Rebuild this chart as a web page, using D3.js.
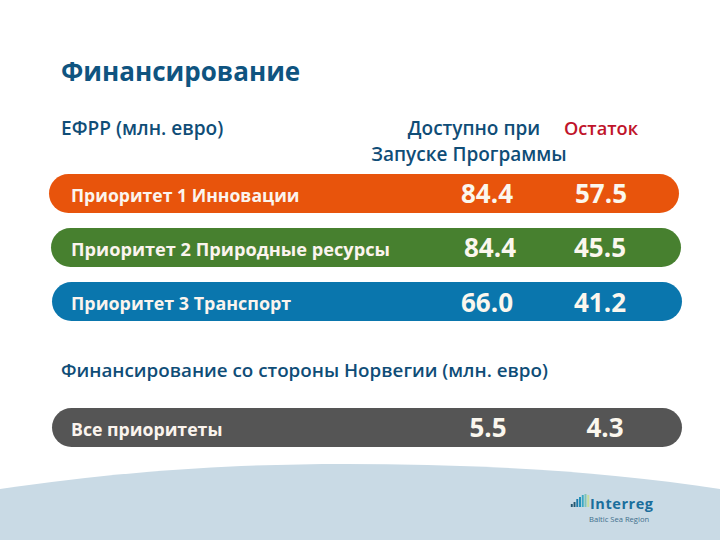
<!DOCTYPE html>
<html><head><meta charset="utf-8">
<script src="https://cdn.jsdelivr.net/npm/d3@7/dist/d3.min.js"></script>
<style>html,body{margin:0;padding:0;background:#fff}svg{display:block}text{font-family:"Open Sans",sans-serif}</style>
</head><body><svg id="c" width="720" height="540"></svg>
<script>
const titleText = "Финансирование";
const subtitleA = "ЕФРР (млн. евро)";
const subtitleB = "Финансирование со стороны Норвегии (млн. евро)";
const headerAvail = ["Доступно при", "Запуске Программы"];
const headerLeft = "Остаток";
const categories = ["Приоритет 1 Инновации","Приоритет 2 Природные ресурсы","Приоритет 3 Транспорт","Все приоритеты"];
const available = ["84.4","84.4","66.0","5.5"];
const remaining = ["57.5","45.5","41.2","4.3"];
const barColors = ["#e8540c","#47802f","#0a76ad","#555555"];

const svg = d3.select("#c");
const y = d3.scaleOrdinal().domain(categories).range([193.5,247.5,301.5,427.5]);
const rowShift = d3.scaleOrdinal().domain(categories).range([-3,-1,0,0]);
const labelSize = d3.scaleOrdinal().domain(categories).range([17.6,18.2,17.9,17.7]);
const col = d3.scaleOrdinal().domain(["name","avail","left"]).range([71,488,601]);
const barX = d3.scaleLinear().domain([0,1]).range([52,682]);
const navy = "#0f4d77";

// ground
const ground = d3.path();
ground.moveTo(0,489);
ground.bezierCurveTo(130,470,240,464,345,464);
ground.bezierCurveTo(470,464,600,470,720,489);
ground.lineTo(720,540); ground.lineTo(0,540); ground.closePath();
svg.append("path").attr("d",ground.toString()).attr("fill","#c9dae5");

function label(x,yy,t,size,fill,weight,anchor){
  return svg.append("text").attr("x",x).attr("y",yy).text(t).attr("font-size",size)
    .attr("fill",fill).attr("font-weight",weight||600).attr("text-anchor",anchor||"start");
}
label(61,81,titleText,26,"#0f5480",700);
label(61,135,subtitleA,19.1,navy,600);
label(61,377,subtitleB,18.8,navy,600);
label(474,135,headerAvail[0],19,navy,600,"middle");
label(469,161,headerAvail[1],19,navy,600,"middle");
label(601,135,headerLeft,18.2,"#c0142a",600,"middle");

const rows = svg.selectAll("g.row").data(categories).join("g").attr("class","row");
rows.append("rect")
  .attr("x",d=>barX(0)+rowShift(d)).attr("y",d=>y(d)-19.5)
  .attr("width",barX(1)-barX(0)).attr("height",39).attr("rx",19.5)
  .attr("fill",(d,i)=>barColors[i]);
rows.append("text").attr("x",col("name")).attr("y",d=>y(d)+8.5)
  .text(d=>d).attr("font-size",d=>labelSize(d)).attr("font-weight",700).attr("fill","#fbf4ee");
rows.append("text").attr("x",(d,i)=>col("avail")+[-1,2,-1,0][i]).attr("y",(d,i)=>y(d)+[9,9,10,9][i])
  .attr("text-anchor","middle").text((d,i)=>available[i]).attr("font-size",26).attr("font-weight",700).attr("fill","#fbf7ee");
rows.append("text").attr("x",(d,i)=>col("left")+[0,-1,-1,4][i]).attr("y",(d,i)=>y(d)+[9,9,10,9][i])
  .attr("text-anchor","middle").text((d,i)=>remaining[i]).attr("font-size",26).attr("font-weight",700).attr("fill","#fbf7ee");

// logo
const logoKeys = ["a","b","c","d","e","f","g"];
const logoX = d3.scaleBand().domain(logoKeys).range([570,590]).padding(0.3);
const logoH = d3.scaleOrdinal().domain(logoKeys).range([3,5,8,10,12,13,12]);
const logoC = d3.scaleOrdinal().domain(logoKeys).range(["#24566f","#24566f","#1c78a8","#1c8fb8","#3ba8c4","#7cc4b8","#c8dc9c"]);
svg.selectAll("rect.logo").data(logoKeys).join("rect").attr("class","logo")
  .attr("x",d=>logoX(d)).attr("y",d=>507-logoH(d)).attr("width",logoX.bandwidth()).attr("height",d=>logoH(d))
  .attr("fill",d=>logoC(d));
label(590,509,"Interreg",14.5,"#1a6e9c",700).attr("letter-spacing",0.55);
label(589,521.5,"Baltic Sea Region",7.6,"#3f6f8c",400);
</script></body></html>
